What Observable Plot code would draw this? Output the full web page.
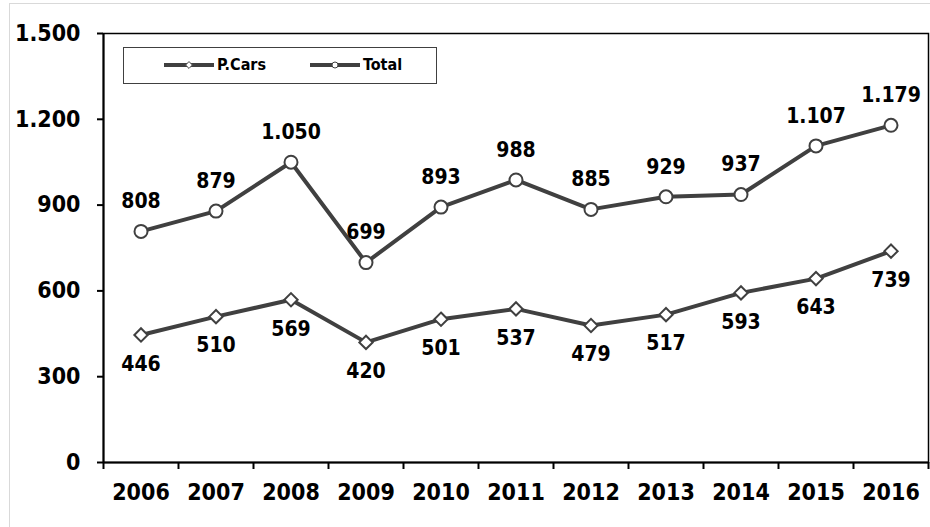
<!DOCTYPE html>
<html>
<head>
<meta charset="utf-8">
<script src="https://cdn.jsdelivr.net/npm/d3@7"></script>
<script src="https://cdn.jsdelivr.net/npm/@observablehq/plot@0.6"></script>
<style>
  html, body { margin: 0; padding: 0; background: #fff; }
  #wrap { position: relative; width: 930px; height: 527px; overflow: hidden;
          font-family: "DejaVu Sans Condensed", "DejaVu Sans", sans-serif; font-stretch: condensed; }
  #outer { position: absolute; left: 9px; top: 3px; width: 1000px; height: 1000px;
           border: 1px solid #d9d9d9; pointer-events: none; }
  #legend { position: absolute; left: 123px; top: 47px; width: 312px; height: 35px;
            border: 1px solid #404040; background: #fff; }
  #legend svg { position: absolute; left: 0; top: 0; }
  #legend .lab { position: absolute; top: 7px; font-weight: bold; font-size: 16px; color: #000; }
</style>
</head>
<body>
<div id="wrap">
  <div id="outer"></div>
  <div id="chart"></div>
  <div id="legend"></div>
</div>
<script>
const years = [2006, 2007, 2008, 2009, 2010, 2011, 2012, 2013, 2014, 2015, 2016];
const pCars = [446, 510, 569, 420, 501, 537, 479, 517, 593, 643, 739];
const total = [808, 879, 1050, 699, 893, 988, 885, 929, 937, 1107, 1179];
const yTicks = [0, 300, 600, 900, 1200, 1500];
const seriesNames = ["P.Cars", "Total"];

const fmt = d3.formatLocale({decimal: ",", thousands: ".", grouping: [3], currency: ["", ""]}).format(",");
const lineColor = "#404040";
const font = '"DejaVu Sans Condensed", "DejaVu Sans", sans-serif';

const carsData = years.map((y, i) => ({year: y, value: pCars[i]}));
const totalData = years.map((y, i) => ({year: y, value: total[i]}));
const boundaries = years.map(y => y - 0.5).concat([years[years.length - 1] + 0.5]);

const chart = Plot.plot({
  width: 930,
  height: 527,
  marginLeft: 103,
  marginRight: 2,
  marginTop: 33,
  marginBottom: 65,
  style: {fontFamily: font, fontStretch: "condensed", background: "transparent", color: "#000"},
  x: {type: "linear", domain: [years[0] - 0.5, years[years.length - 1] + 0.5]},
  y: {domain: [0, 1500]},
  marks: [
    Plot.frame({stroke: "#000", strokeWidth: 1.5}),
    Plot.ruleY([0], {stroke: "#000", strokeWidth: 2}),
    Plot.ruleX([years[0] - 0.5], {stroke: "#000", strokeWidth: 2}),
    Plot.axisY({ticks: yTicks, tickFormat: fmt, tickSize: 6, tickPadding: 17, fontSize: 23, fontWeight: "bold", stroke: "#000", strokeWidth: 2, label: null}),
    Plot.axisX({ticks: boundaries, tickFormat: () => "", tickSize: 7, stroke: "#000", strokeWidth: 2, label: null}),
    Plot.axisX({ticks: years, tickFormat: d => String(d), tickSize: 0, tickPadding: 21, fontSize: 23, fontWeight: "bold", label: null}),
    Plot.line(totalData, {x: "year", y: "value", stroke: lineColor, strokeWidth: 4}),
    Plot.line(carsData, {x: "year", y: "value", stroke: lineColor, strokeWidth: 4}),
    Plot.dot(totalData, {x: "year", y: "value", r: 6.5, fill: "#fff", stroke: lineColor, strokeWidth: 2}),
    Plot.dot(carsData, {x: "year", y: "value", symbol: "diamond2", r: 6, fill: "#fff", stroke: lineColor, strokeWidth: 2}),
    Plot.text(totalData, {x: "year", y: "value", text: d => fmt(d.value), dy: -30, fontSize: 21, fontWeight: "bold", fill: "#000"}),
    Plot.text(carsData, {x: "year", y: "value", text: d => fmt(d.value), dy: 29, fontSize: 21, fontWeight: "bold", fill: "#000"})
  ]
});
document.getElementById("chart").appendChild(chart);

// Legend
const legend = document.getElementById("legend");
const lsvg = d3.create("svg").attr("width", 312).attr("height", 35);
const items = [
  {name: seriesNames[0], x0: 40, symbol: "diamond"},
  {name: seriesNames[1], x0: 186, symbol: "circle"}
];
items.forEach(it => {
  lsvg.append("line").attr("x1", it.x0).attr("x2", it.x0 + 50).attr("y1", 17).attr("y2", 17)
    .attr("stroke", lineColor).attr("stroke-width", 4);
  if (it.symbol === "circle") {
    lsvg.append("circle").attr("cx", it.x0 + 25).attr("cy", 17).attr("r", 3)
      .attr("fill", "#fff").attr("stroke", lineColor).attr("stroke-width", 1);
  } else {
    lsvg.append("path").attr("d", d3.symbol(d3.symbolDiamond2, 30)())
      .attr("transform", `translate(${it.x0 + 25},17)`)
      .attr("fill", "#fff").attr("stroke", lineColor).attr("stroke-width", 1);
  }
  const lab = document.createElement("div");
  lab.className = "lab";
  lab.style.left = (it.x0 + 53) + "px";
  lab.textContent = it.name;
  legend.appendChild(lab);
});
legend.insertBefore(lsvg.node(), legend.firstChild);
</script>
</body>
</html>
